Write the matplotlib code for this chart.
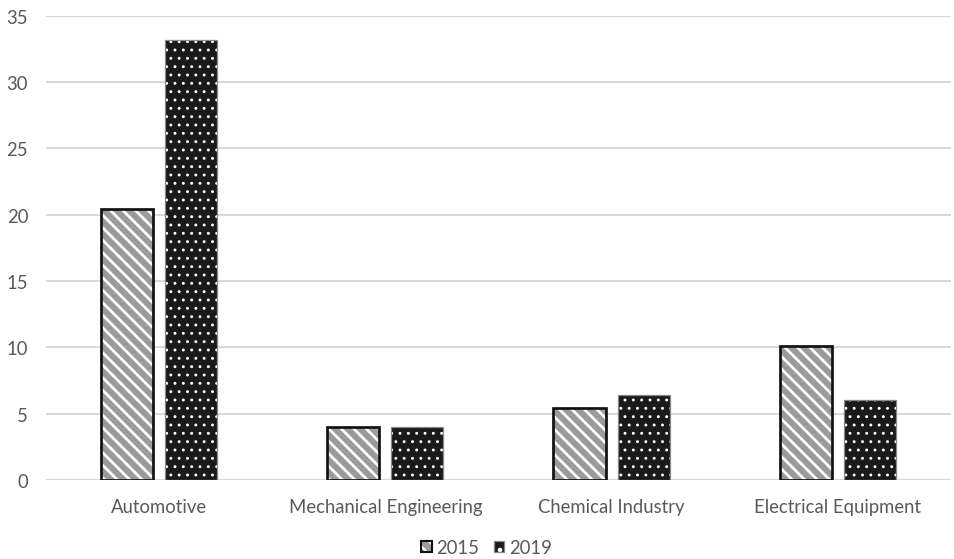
import matplotlib.pyplot as plt
import numpy as np
from matplotlib.patches import Patch
from matplotlib.legend_handler import HandlerTuple

# данные по отраслям
categories = ['Automotive', 'Mechanical Engineering', 'Chemical Industry', 'Electrical Equipment']
values_2015 = [20.4, 4.0, 5.4, 10.1]
values_2019 = [33.2, 4.0, 6.4, 6.0]

plt.rcParams['font.family'] = ['Lato', 'DejaVu Sans']
text_color = '#595959'

# штриховки: диагональ и точки
stripes = chr(92) * 4
dots = '...'

fig = plt.figure(figsize=(6.36, 3.7333), dpi=150)
ax = fig.add_axes([0.048, 0.141, 0.949, 0.829])

x = np.arange(len(categories))
w = 0.23
off = 0.142

# 2015 - серые с белой штриховкой
with plt.rc_context({'hatch.linewidth': 1.3}):
    ax.bar(x - off, values_2015, w, color='#9b9b9b', edgecolor='white',
           linewidth=0, hatch=stripes, zorder=2)
ax.bar(x - off, values_2015, w, fill=False, edgecolor='#111111', linewidth=1.3, zorder=3)

# 2019 - черные с белыми точками
with plt.rc_context({'hatch.linewidth': 0.6}):
    ax.bar(x + off, values_2019, w, color='#1a1a1a', edgecolor='white',
           linewidth=0, hatch=dots, zorder=2)
ax.bar(x + off, values_2019, w, fill=False, edgecolor='#888888', linewidth=0.6, zorder=3)

ax.set_xlim(-0.5, len(categories) - 0.5)
ax.set_ylim(0, 35)
ax.set_yticks(range(0, 36, 5))
ax.set_xticks(x)
ax.set_xticklabels(categories)

ax.grid(axis='y', color='#d9d9d9', linewidth=1.0, zorder=0)
ax.set_axisbelow(True)
for s in ax.spines.values():
    s.set_visible(False)
ax.tick_params(length=0, labelsize=8.9, colors=text_color)
ax.tick_params(axis='y', pad=8.5)
ax.tick_params(axis='x', pad=8.5)

# легенда
with plt.rc_context({'hatch.linewidth': 1.0}):
    h15 = (Patch(facecolor='#9b9b9b', edgecolor='white', linewidth=0, hatch=stripes),
           Patch(fill=False, edgecolor='#111111', linewidth=1.0))
    h19 = (Patch(facecolor='#1a1a1a', edgecolor='white', linewidth=0, hatch='..'),
           Patch(fill=False, edgecolor='#888888', linewidth=0.6))
leg = fig.legend([h15, h19], ['2015', '2019'], loc='lower center',
                 bbox_to_anchor=(0.51, -0.025), ncol=2, frameon=False,
                 handler_map={tuple: HandlerTuple(ndivide=1)},
                 handlelength=0.55, handleheight=0.55, handletextpad=0.25,
                 columnspacing=0.8, fontsize=8.9, labelcolor=text_color)

fig.savefig('out.png', dpi=150)
